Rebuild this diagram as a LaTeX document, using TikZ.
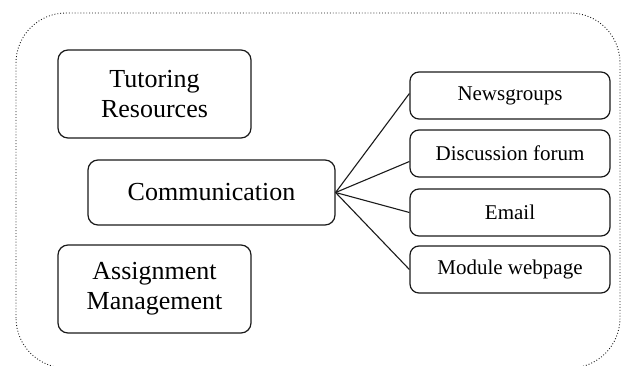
\documentclass[tikz,border=0pt]{standalone}
\usepackage{fontspec}
\setmainfont{Liberation Serif}
\definecolor{frameink}{HTML}{1A1A1A}

\begin{document}
\begin{tikzpicture}[
        x=1pt, y=1pt,
        bigbox/.style={draw=frameink, line width=1.2pt, rounded corners=10pt,
          inner sep=0pt, align=center, font=\fontsize{26}{30}\selectfont},
        smallbox/.style={draw=frameink, line width=1.2pt, rounded corners=9pt,
          inner sep=0pt, minimum width=200pt, minimum height=47pt,
          font=\fontsize{21}{24}\selectfont},
        link/.style={draw=frameink, line width=1.1pt},
      ]
      \useasboundingbox (0,0) rectangle (621,365);
      \clip (0,0) rectangle (621,365);

      % Outer dotted frame (runs off the bottom edge)
      \draw[frameink, dotted, line width=0.9pt, rounded corners=50pt]
        (16,-3) rectangle (620,352);

      % Left column
      \node[bigbox, minimum width=193pt, minimum height=88pt] (tutor) at (154.5,271)
        {Tutoring\\Resources};
      \node[bigbox, minimum width=247pt, minimum height=65pt] (comm) at (211.5,172.5)
        {Communication};
      \node[bigbox, minimum width=193pt, minimum height=88pt] (assign) at (154.5,76)
        {Assignment\\Management};

      % Right column
      \node[smallbox] (news) at (510,269.5) {Newsgroups};
      \node[smallbox] (forum) at (510,211.5) {Discussion forum};
      \node[smallbox] (email) at (510,152.5) {Email};
      \node[smallbox] (webpage) at (510,95.5) {Module webpage};

      % Fan of links from Communication
      \draw[link] (comm.east) -- ([yshift=2pt]news.west);
      \draw[link] (comm.east) -- ([yshift=-8pt]forum.west);
      \draw[link] (comm.east) -- (email.west);
      \draw[link] (comm.east) -- (webpage.west);
    \end{tikzpicture}
\end{document}
